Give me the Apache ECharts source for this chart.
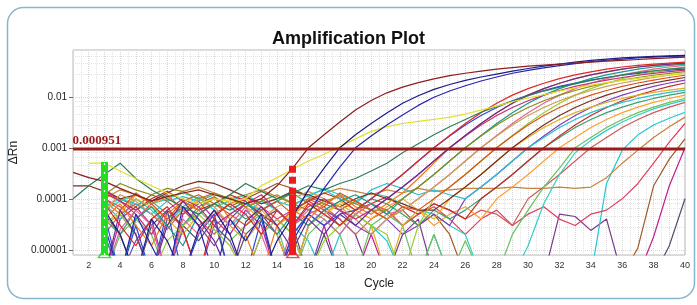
<!DOCTYPE html>
<html>
<head>
<meta charset="utf-8">
<script src="https://cdn.jsdelivr.net/npm/echarts@6/dist/echarts.min.js"></script>
<style>
html, body { margin: 0; padding: 0; background: #fff; }
#AmpPlot { width: 697px; height: 305px; }
</style>
</head>
<body>
<div id="AmpPlot"></div>
<script>
// cycle numbers on the x axis
const cycles = [1, 2, 3, 4, 5, 6, 7, 8, 9, 10, 11, 12, 13, 14, 15, 16, 17, 18, 19, 20,
  21, 22, 23, 24, 25, 26, 27, 28, 29, 30, 31, 32, 33, 34, 35, 36, 37, 38, 39, 40];
const yTickValues = [0.00001, 0.0001, 0.001, 0.01];
const threshold = 0.000951;
const baselineStart = 3;
const baselineEnd = 15;

// delta Rn per well (null = not drawn, 3e-6 = below the axis)
const well01 = [3.3e-4, 2.6e-4, 2.2e-4, 1.6e-4, 1.2e-4, 9e-5, 1.1e-4, 1.3e-4, 1.5e-4, 1.2e-4,
  1e-4, 8e-5, 1e-4, 1.8e-4, 4e-4, 1e-3, 1.8e-3, 3.2e-3, 5.5e-3, 8.5e-3,
  1.2e-2, 1.55e-2, 1.9e-2, 2.25e-2, 2.6e-2, 2.9e-2, 3.2e-2, 3.5e-2, 3.75e-2, 4e-2,
  4.2e-2, 4.4e-2, 4.6e-2, 4.8e-2, 5e-2, 5.2e-2, 5.4e-2, 5.6e-2, 5.8e-2, 6e-2];
const well02 = [null, null, 6e-5, 2e-5, 3e-6, 4e-5, 1.5e-5, 3e-6, 2.5e-5, 6e-5,
  2e-5, 3e-6, 3e-6, 1.5e-5, 4.5e-5, 1.5e-4, 4e-4, 1e-3, 1.8e-3, 3e-3,
  4.8e-3, 7.5e-3, 1.05e-2, 1.4e-2, 1.75e-2, 2.1e-2, 2.45e-2, 2.8e-2, 3.2e-2, 3.6e-2,
  4e-2, 4.4e-2, 4.8e-2, 5.2e-2, 5.5e-2, 5.8e-2, 6e-2, 6.2e-2, 6.35e-2, 6.5e-2];
const well03 = [null, null, 3e-5, 3e-6, 5e-5, 1.2e-5, 3e-6, 7e-5, 3e-5, 3e-6,
  4e-5, 1.5e-5, 5e-5, 3e-6, 1.5e-5, 5e-5, 1.6e-4, 4.2e-4, 1e-3, 1.7e-3,
  2.8e-3, 4.4e-3, 6.8e-3, 9.8e-3, 1.3e-2, 1.65e-2, 2.05e-2, 2.45e-2, 2.9e-2, 3.3e-2,
  3.7e-2, 4.1e-2, 4.5e-2, 4.9e-2, 5.2e-2, 5.5e-2, 5.8e-2, 6e-2, 6.2e-2, 6.3e-2];
const well04 = [null, 5e-4, 5e-4, 3.5e-4, 2.5e-4, 1.8e-4, 1.3e-4, 1e-4, 8e-5, 1e-4,
  9e-5, 1e-4, 1.8e-4, 2.6e-4, 3.8e-4, 5.5e-4, 7.5e-4, 1.05e-3, 1.5e-3, 2.1e-3,
  2.6e-3, 3e-3, 3.3e-3, 3.6e-3, 4e-3, 4.6e-3, 5.5e-3, 6.6e-3, 8e-3, 9.5e-3,
  1.1e-2, 1.3e-2, 1.5e-2, 1.7e-2, 1.9e-2, 2.1e-2, 2.3e-2, 2.5e-2, 2.7e-2, 2.9e-2];
const well05 = [1e-4, 1.8e-4, 3e-4, 5e-4, 2.5e-4, 1.5e-4, 1e-4, 7e-5, 5e-5, 8e-5,
  1.2e-4, 2e-4, 1.4e-4, 1e-4, 1.3e-4, 1.8e-4, 1.5e-4, 2e-4, 2.5e-4, 3.5e-4,
  5e-4, 8e-4, 1.2e-3, 1.8e-3, 2.6e-3, 3.6e-3, 5e-3, 6.5e-3, 8.3e-3, 1.05e-2,
  1.3e-2, 1.55e-2, 1.8e-2, 2.1e-2, 2.4e-2, 2.7e-2, 3e-2, 3.25e-2, 3.5e-2, 3.7e-2];
const well06 = [null, null, 8e-5, 3e-5, 1.2e-5, 4e-5, 7e-5, 2.5e-5, 3e-6, 4.5e-5,
  8e-5, 5e-5, 2e-5, 6e-5, 3e-5, 8e-5, 5e-5, 3e-5, 6e-5, 1e-4,
  1.7e-4, 3e-4, 5.5e-4, 1e-3, 1.75e-3, 3e-3, 4.9e-3, 7.5e-3, 1.08e-2, 1.45e-2,
  1.85e-2, 2.28e-2, 2.7e-2, 3.1e-2, 3.5e-2, 3.85e-2, 4.15e-2, 4.4e-2, 4.6e-2, 4.8e-2];
const well07 = [null, null, 3e-6, 6e-5, 2e-5, 3e-6, 3e-5, 9e-5, 4e-5, 1.5e-5,
  3e-6, 3.5e-5, 7e-5, 3e-5, 1e-5, 4e-5, 2e-5, 5e-5, 3e-5, 6e-5,
  1e-4, 1.7e-4, 3e-4, 5.5e-4, 1e-3, 1.75e-3, 3e-3, 4.9e-3, 7.5e-3, 1.08e-2,
  1.45e-2, 1.85e-2, 2.28e-2, 2.7e-2, 3.1e-2, 3.5e-2, 3.85e-2, 4.15e-2, 4.4e-2, 4.6e-2];
const well08 = [null, null, 1.5e-4, 9e-5, 5e-5, 2e-5, 6e-5, 1e-4, 7e-5, 3e-5,
  5e-5, 8e-5, 1.2e-4, 6e-5, 3e-5, 7e-5, 1e-4, 6e-5, 4e-5, 6e-5,
  1e-4, 1.7e-4, 3e-4, 5.5e-4, 1e-3, 1.7e-3, 2.8e-3, 4.3e-3, 6.2e-3, 8.4e-3,
  1.08e-2, 1.33e-2, 1.6e-2, 1.87e-2, 2.13e-2, 2.4e-2, 2.65e-2, 2.9e-2, 3.12e-2, 3.33e-2];
const well09 = [null, null, 4e-5, 8e-5, 3e-5, 1.2e-5, 5e-5, 9e-5, 6e-5, 1.1e-4,
  4e-5, 2e-5, 3e-6, 3e-5, 6e-5, 4e-5, 8e-5, 1.2e-4, 7e-5, 5e-5,
  8e-5, 1.3e-4, 2.5e-4, 5e-4, 1e-3, 1.75e-3, 3e-3, 4.9e-3, 7.5e-3, 1.08e-2,
  1.45e-2, 1.85e-2, 2.28e-2, 2.7e-2, 3.1e-2, 3.5e-2, 3.85e-2, 4.15e-2, 4.4e-2, 4.6e-2];
const well10 = [null, null, 1.2e-4, 2e-4, 1.5e-4, 1.2e-4, 1.6e-4, 1.4e-4, 1e-4, 1.3e-4,
  1e-4, 7e-5, 9e-5, 1.2e-4, 8e-5, 6e-5, 9e-5, 1.1e-4, 8e-5, 6e-5,
  6e-5, 1e-4, 1.7e-4, 3e-4, 5.5e-4, 1e-3, 1.7e-3, 2.8e-3, 4.3e-3, 6.2e-3,
  8.4e-3, 1.08e-2, 1.33e-2, 1.6e-2, 1.87e-2, 2.13e-2, 2.4e-2, 2.65e-2, 2.9e-2, 3.12e-2];
const well11 = [null, null, 2e-5, 3e-6, 4e-5, 7e-5, 3e-5, 1.2e-5, 5e-5, 8e-5,
  6e-5, 9e-5, 4e-5, 2e-5, 5e-5, 3e-5, 6e-5, 9e-5, 1.2e-4, 8e-5,
  5e-5, 1e-4, 1.7e-4, 3e-4, 5.5e-4, 1e-3, 1.75e-3, 3e-3, 4.9e-3, 7.5e-3,
  1.08e-2, 1.45e-2, 1.85e-2, 2.28e-2, 2.7e-2, 3.1e-2, 3.5e-2, 3.85e-2, 4.15e-2, 4.4e-2];
const well12 = [null, null, 6e-5, 1.2e-4, 9e-5, 5e-5, 3e-5, 6e-5, 1e-4, 7e-5,
  3e-5, 1.5e-5, 4e-5, 7e-5, 1e-4, 1.4e-4, 1e-4, 7e-5, 4e-5, 2e-5,
  4e-5, 6e-5, 1e-4, 1.7e-4, 3e-4, 5.5e-4, 1e-3, 1.7e-3, 2.8e-3, 4.3e-3,
  6.2e-3, 8.4e-3, 1.08e-2, 1.33e-2, 1.6e-2, 1.87e-2, 2.13e-2, 2.4e-2, 2.65e-2, 2.9e-2];
const well13 = [null, null, 3e-6, 2.5e-5, 6e-5, 3e-5, 3e-6, 4e-5, 2e-5, 6e-5,
  3e-5, 7e-5, 2e-5, 3e-6, 3e-5, 6e-5, 4e-5, 2e-5, 5e-5, 8e-5,
  5e-5, 6e-5, 1e-4, 1.7e-4, 3e-4, 5.5e-4, 1e-3, 1.75e-3, 3e-3, 4.9e-3,
  7.5e-3, 1.08e-2, 1.45e-2, 1.85e-2, 2.28e-2, 2.7e-2, 3.1e-2, 3.5e-2, 3.85e-2, 4.15e-2];
const well14 = [null, null, 1e-4, 6e-5, 1.3e-4, 8e-5, 4e-5, 9e-5, 1.2e-4, 8e-5,
  5e-5, 3e-5, 6e-5, 9e-5, 5e-5, 1e-4, 7e-5, 1.3e-4, 9e-5, 6e-5,
  4e-5, 7e-5, 6e-5, 1e-4, 1.7e-4, 3e-4, 5.5e-4, 1e-3, 1.7e-3, 2.8e-3,
  4.3e-3, 6.2e-3, 8.4e-3, 1.08e-2, 1.33e-2, 1.6e-2, 1.87e-2, 2.13e-2, 2.4e-2, 2.65e-2];
const well15 = [null, null, 3e-5, 5e-5, 2e-5, 3e-6, 1.5e-5, 3e-5, 5e-5, 2.5e-5,
  1.2e-5, 3e-6, 2e-5, 4e-5, 2e-5, 3e-6, 1.5e-5, 3e-5, 5e-5, 3e-5,
  2e-5, 3e-6, 3e-5, 1e-4, 1.7e-4, 3e-4, 5.5e-4, 1e-3, 1.75e-3, 3e-3,
  4.9e-3, 7.5e-3, 1.08e-2, 1.45e-2, 1.85e-2, 2.28e-2, 2.7e-2, 3.1e-2, 3.5e-2, 3.85e-2];
const well16 = [null, null, 5e-5, 3e-6, 3e-5, 3e-6, 6e-5, 3e-6, 2e-5, 5e-5,
  3e-6, 3e-6, 4e-5, 3e-6, 2e-5, 5e-5, 3e-5, 5e-5, 6e-5, 1e-4,
  1.7e-4, 3e-4, 5.5e-4, 1e-3, 1.7e-3, 2.8e-3, 4.3e-3, 6.2e-3, 8.4e-3, 1.08e-2,
  1.33e-2, 1.6e-2, 1.87e-2, 2.13e-2, 2.4e-2, 2.65e-2, 2.9e-2, 3.12e-2, 3.33e-2, 3.5e-2];
const well17 = [1.8e-4, 1.8e-4, 1.4e-4, 1e-4, 1.2e-4, 9e-5, 1.3e-4, 1.8e-4, 2.2e-4, 2e-4,
  1.5e-4, 1.1e-4, 8e-5, 1e-4, 1.4e-4, 1.2e-4, 9e-5, 7e-5, 1e-4, 1.3e-4,
  1e-4, 8e-5, 6e-5, 6e-5, 1e-4, 1.7e-4, 3e-4, 5.5e-4, 1e-3, 1.7e-3,
  2.8e-3, 4.3e-3, 6.2e-3, 8.4e-3, 1.08e-2, 1.33e-2, 1.6e-2, 1.87e-2, 2.13e-2, 2.4e-2];
const well18 = [null, null, 7e-5, 1e-4, 8e-5, 5e-5, 9e-5, 1.1e-4, 9e-5, 1.2e-4,
  1e-4, 8e-5, 6e-5, 9e-5, 7e-5, 1.2e-4, 1.5e-4, 1e-4, 8e-5, 1.5e-4,
  2e-4, 1.6e-4, 1.2e-4, 1.5e-4, 1.2e-4, 1e-4, 1.7e-4, 3e-4, 5.5e-4, 1e-3,
  1.6e-3, 2.5e-3, 3.6e-3, 4.9e-3, 6.3e-3, 7.8e-3, 9.3e-3, 1.08e-2, 1.22e-2, 1.35e-2];
const well19 = [null, null, 3e-5, 6e-5, 1e-4, 7e-5, 4e-5, 2e-5, 5e-5, 8e-5,
  1.1e-4, 7e-5, 4e-5, 2e-5, 3e-6, 3e-5, 5e-5, 8e-5, 5e-5, 3e-5,
  3e-6, 3e-5, 6e-5, 4e-5, 1e-4, 1.7e-4, 3e-4, 5.5e-4, 1e-3, 1.6e-3,
  2.5e-3, 3.6e-3, 4.9e-3, 6.3e-3, 7.8e-3, 9.3e-3, 1.08e-2, 1.22e-2, 1.35e-2, 1.48e-2];
const well20 = [null, null, 2e-5, 3e-6, 1.5e-5, 4e-5, 3e-6, 2.5e-5, 3e-6, 3e-5,
  1.5e-5, 3e-6, 2e-5, 4e-5, 2e-5, 3e-6, 3e-5, 6e-5, 3e-5, 2e-5,
  4e-5, 2e-5, 3e-5, 5e-5, 3e-5, 1e-4, 1.7e-4, 3e-4, 5.5e-4, 1e-3,
  1.7e-3, 2.8e-3, 4.3e-3, 6.2e-3, 8.4e-3, 1.08e-2, 1.33e-2, 1.6e-2, 1.87e-2, 2.13e-2];
const well21 = [null, null, 1.3e-4, 9e-5, 6e-5, 1e-4, 1.4e-4, 9e-5, 6e-5, 8e-5,
  1.2e-4, 9e-5, 5e-5, 3e-5, 6e-5, 9e-5, 1.3e-4, 1e-4, 6e-5, 8e-5,
  1.1e-4, 7e-5, 5e-5, 8e-5, 6e-5, 4e-5, 1e-4, 1.7e-4, 3e-4, 5.5e-4,
  1e-3, 1.7e-3, 2.8e-3, 4.3e-3, 6.2e-3, 8.4e-3, 1.08e-2, 1.33e-2, 1.6e-2, 1.87e-2];
const well22 = [null, null, 4e-5, 2e-5, 6e-5, 9e-5, 5e-5, 3e-5, 7e-5, 1e-4,
  7e-5, 4e-5, 6e-5, 9e-5, 1.3e-4, 8e-5, 5e-5, 3e-5, 6e-5, 1e-4,
  8e-5, 5e-5, 3e-5, 6e-5, 4e-5, 6e-5, 1e-4, 1.7e-4, 3e-4, 5.5e-4,
  1e-3, 1.6e-3, 2.5e-3, 3.6e-3, 4.9e-3, 6.3e-3, 7.8e-3, 9.3e-3, 1.08e-2, 1.22e-2];
const well23 = [null, null, 9e-5, 5e-5, 1.2e-4, 8e-5, 1.1e-4, 6e-5, 9e-5, 1.3e-4,
  8e-5, 1e-4, 6e-5, 3e-5, 5e-5, 8e-5, 5e-5, 9e-5, 6e-5, 4e-5,
  7e-5, 1e-4, 6e-5, 3e-5, 5e-5, 7e-5, 4e-5, 1e-4, 1.7e-4, 3e-4,
  5.5e-4, 1e-3, 1.6e-3, 2.5e-3, 3.6e-3, 4.9e-3, 6.3e-3, 7.8e-3, 9.3e-3, 1.08e-2];
const well24 = [null, null, 3e-6, 2e-5, 4e-5, 2e-5, 3e-6, 3e-5, 6e-5, 3e-5,
  1.5e-5, 3e-5, 5e-5, 3e-5, 3e-6, 2e-5, 4e-5, 2e-5, 3e-6, 3e-5,
  5e-5, 3e-5, 3e-6, 2e-5, 3e-6, 1.5e-5, 3e-6, 3e-6, 2e-5, 6e-5,
  1.7e-4, 4e-4, 1e-3, 1.6e-3, 2.5e-3, 3.6e-3, 4.9e-3, 6.3e-3, 7.8e-3, 9.3e-3];
const well25 = [null, null, 6e-5, 9e-5, 1.2e-4, 8e-5, 1e-4, 1.3e-4, 1e-4, 7e-5,
  9e-5, 1.2e-4, 8e-5, 1e-4, 1.4e-4, 1.1e-4, 1.6e-4, 1.2e-4, 9e-5, 1.3e-4,
  1.1e-4, 8e-5, 6e-5, 5e-5, 3e-5, 2e-5, 3e-6, 3e-6, 3e-6, 1.2e-5,
  8e-5, 3e-4, 8e-4, 1.4e-3, 2.2e-3, 3.2e-3, 4.4e-3, 5.8e-3, 7.2e-3, 8.6e-3];
const well26 = [null, null, 2e-5, 5e-5, 8e-5, 5e-5, 2.5e-5, 6e-5, 4e-5, 2e-5,
  5e-5, 8e-5, 1e-4, 6e-5, 3e-5, 5e-5, 7e-5, 4e-5, 2e-5, 4e-5,
  6e-5, 3e-5, 5e-5, 8e-5, 6e-5, 4e-5, 6e-5, 5e-5, 3e-5, 1e-4,
  1.7e-4, 3e-4, 5.5e-4, 1e-3, 1.6e-3, 2.5e-3, 3.6e-3, 4.9e-3, 6.3e-3, 7.8e-3];
const well27 = [null, null, 1e-4, 1.5e-4, 1.2e-4, 8e-5, 1e-4, 1.4e-4, 1.7e-4, 1.3e-4,
  1e-4, 1.2e-4, 1.5e-4, 1.1e-4, 8e-5, 1e-4, 1.3e-4, 1.6e-4, 1.4e-4, 1.2e-4,
  1.5e-4, 1.3e-4, 1.6e-4, 1.4e-4, 1.5e-4, 1.6e-4, 1.6e-4, 1.6e-4, 1.7e-4, 1.6e-4,
  1.6e-4, 1.7e-4, 1.6e-4, 1.7e-4, 2.6e-4, 5e-4, 9e-4, 1.6e-3, 2.6e-3, 4e-3];
const well28 = [null, null, 8e-5, 4e-5, 1e-4, 6e-5, 3e-5, 7e-5, 1.1e-4, 6e-5,
  3e-5, 5e-5, 9e-5, 6e-5, 3e-5, 1.5e-5, 3e-6, 2e-5, 5e-5, 3e-5,
  1.5e-5, 3e-6, 3e-6, 2e-5, 3e-6, 3e-6, 3e-6, 3e-6, 3e-6, 3e-6,
  3e-6, 3e-6, 3e-6, 3e-6, 2e-4, 9e-4, 1.8e-3, 2.8e-3, 3.8e-3, 5e-3];
const well29 = [null, null, 1.5e-4, 1e-4, 7e-5, 1.2e-4, 9e-5, 5e-5, 8e-5, 1.1e-4,
  7e-5, 1e-4, 1.4e-4, 2e-4, 1.6e-4, 1.1e-4, 8e-5, 6e-5, 9e-5, 6e-5,
  4e-5, 6e-5, 3e-5, 5e-5, 2e-5, 3e-6, 3e-6, 3e-6, 3e-6, 3e-6,
  3e-6, 3e-6, 3e-6, 3e-6, 3e-6, 3e-6, 1.1e-5, 1.8e-4, 6e-4, 1.5e-3];
const well30 = [null, null, 3e-6, 4e-5, 7e-5, 3e-5, 3e-6, 5e-5, 9e-5, 4e-5,
  2e-5, 6e-5, 3e-5, 3e-6, 2e-5, 5e-5, 3e-5, 3e-6, 3e-6, 2e-5,
  3e-6, 3e-6, 3e-6, 3e-6, 3e-6, 3e-6, 3e-6, 3e-6, 3e-6, 3e-6,
  3e-6, 3e-6, 3e-6, 3e-6, 3e-6, 3e-6, 3e-6, 1.8e-5, 1.8e-4, 1e-3];
const well31 = [null, null, 5e-5, 2e-5, 3e-6, 3e-5, 6e-5, 3e-5, 1.5e-5, 4e-5,
  3e-6, 2e-5, 4e-5, 6e-5, 3e-5, 3e-6, 2e-5, 3e-6, 3e-6, 3e-6,
  3e-6, 3e-6, 3e-6, 3e-6, 3e-6, 3e-6, 3e-6, 3e-6, 3e-6, 3e-6,
  3e-6, 3e-6, 3e-6, 3e-6, 3e-6, 3e-6, 3e-6, 3e-6, 1.2e-5, 1e-4];
const well32 = [null, null, 9e-5, 5e-5, 2e-5, 3e-6, 4e-5, 7e-5, 3e-5, 1.2e-5,
  4e-5, 8e-5, 5e-5, 2e-5, 3e-6, 3e-5, 6e-5, 4e-5, 2e-5, 3e-6,
  3e-6, 2e-5, 4e-5, 3e-6, 3e-6, 3e-6, 3e-6, 3e-6, 3e-6, 3e-6,
  3e-6, 5e-5, 4.5e-5, 2.4e-5, 4e-5, 3e-6, 3e-6, 3e-6, 3e-6, 3e-6];
const well33 = [null, null, 1e-4, 7e-5, 4e-5, 8e-5, 1.2e-4, 6e-5, 3e-5, 5e-5,
  8e-5, 1.1e-4, 7e-5, 4e-5, 6e-5, 9e-5, 6e-5, 3e-5, 5e-5, 8e-5,
  6e-5, 3e-5, 5e-5, 7e-5, 4e-5, 2e-5, 4e-5, 6e-5, 3e-5, 5e-5,
  7e-5, 4e-5, 3e-5, 5e-5, 6e-5, 1e-4, 2e-4, 5e-4, 1.3e-3, 3e-3];

const wells = [well31, well32, well30, well29, well28, well33, well27, well26, well25, well24,
  well23, well22, well21, well20, well19, well18, well17, well16, well15, well14,
  well13, well12, well11, well10, well09, well08, well07, well06, well05, well04,
  well03, well02, well01];
const wellColors = ['#50506a', '#7a3a8a', '#c02090', '#a05a2a', '#20c8d0', '#e04060', '#c8803a', '#d05a5a', '#30d0c0', '#6cc060',
  '#ffa030', '#3aa070', '#c42a2a', '#8040b8', '#e0b020', '#28c0d0', '#7a2e1e', '#3048d8', '#9ccc30', '#d8541a',
  '#e06898', '#c8a050', '#179a8a', '#8c8c1e', '#f07818', '#c0307a', '#6a2c91', '#e02626', '#2e7d55', '#e4e02a',
  '#2626b0', '#1c1c86', '#8b1e1e'];

const yMin = 7.9e-6;
const yMax = 0.083;
const markerFloor = 8.6e-6;
const greenTop = 5.3e-4;
const redTop = 5e-4;
const redSolidTop = 1.2e-4;

let chart = echarts.init(document.getElementById('AmpPlot'), null, { renderer: 'canvas' });

let series = wells.map((w, i) => ({
  type: 'line',
  symbol: 'none',
  silent: true,
  lineStyle: { width: 1.2, color: wellColors[i] },
  data: cycles.map((c, k) => [c, w[k]]).filter(p => p[1] !== null)
}));

// baseline start marker (green)
series.push({
  type: 'scatter',
  symbol: 'triangle',
  symbolSize: [12, 9],
  silent: true,
  itemStyle: { color: 'rgba(255,255,255,0)', borderColor: '#1ed41e', borderWidth: 1.5 },
  data: [[baselineStart, markerFloor]],
  markLine: {
    silent: true,
    symbol: 'none',
    animation: false,
    label: { show: false },
    data: [
      [{ coord: [baselineStart, yMin], lineStyle: { color: '#22dd22', width: 7, type: 'solid' } },
        { coord: [baselineStart, greenTop] }],
      [{ coord: [baselineStart, yMin], lineStyle: { color: '#ffffff', width: 1.2, type: [2, 7] } },
        { coord: [baselineStart, greenTop] }]
    ]
  }
});

// baseline end marker (red)
series.push({
  type: 'scatter',
  symbol: 'triangle',
  symbolSize: [12, 9],
  silent: true,
  itemStyle: { color: 'rgba(255,255,255,0)', borderColor: '#ee2020', borderWidth: 1.5 },
  data: [[baselineEnd, markerFloor]],
  markLine: {
    silent: true,
    symbol: 'none',
    animation: false,
    label: { show: false },
    data: [
      [{ coord: [baselineEnd, yMin], lineStyle: { color: '#ee1c1c', width: 7, type: 'solid' } },
        { coord: [baselineEnd, redSolidTop] }],
      [{ coord: [baselineEnd, redSolidTop], lineStyle: { color: '#ee1c1c', width: 7, type: [7, 4] } },
        { coord: [baselineEnd, redTop] }]
    ]
  }
});

// threshold line
series.push({
  type: 'line',
  symbol: 'none',
  silent: true,
  lineStyle: { color: '#9b1b1b', width: 3 },
  data: [[cycles[0], threshold], [cycles[cycles.length - 1], threshold]],
  markPoint: {
    silent: true,
    symbol: 'rect',
    symbolSize: 1,
    itemStyle: { color: 'rgba(0,0,0,0)' },
    label: {
      show: true,
      position: 'right',
      offset: [-6, -8],
      formatter: String(threshold),
      color: '#9b1b1b',
      fontFamily: 'Liberation Serif',
      fontWeight: 'bold',
      fontSize: 13
    },
    data: [{ coord: [cycles[0], threshold] }]
  }
});

chart.setOption({
  animation: false,
  backgroundColor: '#ffffff',
  title: {
    text: 'Amplification Plot',
    left: 'center',
    top: 25,
    textStyle: { fontSize: 18, fontWeight: 'bold', fontFamily: 'Liberation Sans', color: '#111' }
  },
  graphic: [{
    type: 'rect',
    left: 5,
    top: 5,
    shape: { width: 687, height: 291, r: 16 },
    style: { fill: 'none', stroke: '#86b6cc', lineWidth: 1.5 }
  }],
  grid: {
    left: 72,
    right: 12,
    top: 50,
    bottom: 50,
    show: true,
    borderColor: '#b4b4b4',
    borderWidth: 1
  },
  xAxis: {
    type: 'value',
    min: 1,
    max: 40,
    interval: 1,
    name: 'Cycle',
    nameLocation: 'middle',
    nameGap: 23,
    nameTextStyle: { fontSize: 12, fontFamily: 'Liberation Sans', color: '#222' },
    axisLine: { show: false },
    axisTick: { show: false },
    axisLabel: {
      fontSize: 9,
      fontFamily: 'Liberation Sans',
      color: '#333',
      margin: 6,
      formatter: v => (v % 2 === 0 ? String(v) : '')
    },
    splitLine: { show: true, lineStyle: { color: '#d6d6d6', type: 'dotted', width: 1 } },
    minorTick: { show: false, splitNumber: 2 },
    minorSplitLine: { show: true, lineStyle: { color: '#e2e2e2', type: 'dotted', width: 1 } }
  },
  yAxis: {
    type: 'log',
    logBase: 10,
    min: yMin,
    max: yMax,
    name: 'ΔRn',
    nameLocation: 'middle',
    nameGap: 46,
    nameTextStyle: { fontSize: 12, fontFamily: 'Liberation Sans', color: '#222' },
    axisLine: { show: false },
    axisTick: { show: true, length: 4, lineStyle: { color: '#666' }, customValues: yTickValues },
    axisLabel: {
      fontSize: 10,
      fontFamily: 'Liberation Sans',
      color: '#222',
      margin: 6,
      formatter: v => {
        let hit = yTickValues.find(t => Math.abs(v - t) / t < 1e-6);
        return hit ? hit.toFixed(Math.round(-Math.log10(hit))) : '';
      }
    },
    splitLine: { show: true, lineStyle: { color: '#d6d6d6', type: 'dotted', width: 1 } },
    minorTick: { show: false, splitNumber: 5 },
    minorSplitLine: { show: true, lineStyle: { color: '#e2e2e2', type: 'dotted', width: 1 } }
  },
  series: series
});
</script>
</body>
</html>
